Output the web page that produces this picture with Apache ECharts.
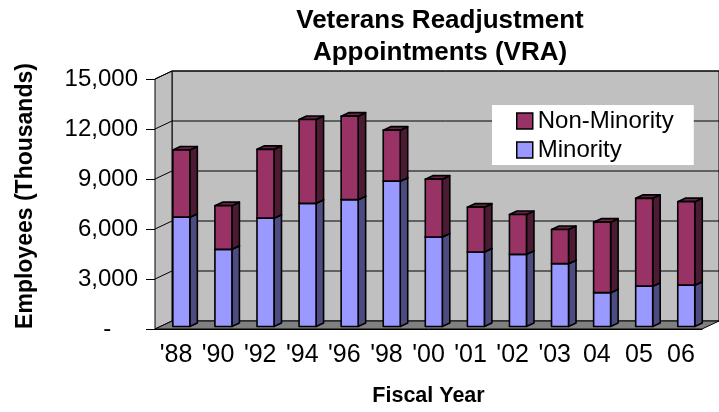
<!DOCTYPE html>
<html>
<head>
<meta charset="utf-8">
<script src="https://cdn.jsdelivr.net/npm/echarts@6/dist/echarts.min.js"></script>
<style>
  html, body { margin: 0; padding: 0; background: #fff; }
  #chart { width: 719px; height: 412px; }
</style>
</head>
<body>
<div id="chart"></div>
<script>
// Fiscal years on the category axis
const categories = ["'88", "'90", "'92", "'94", "'96", "'98", "'00", "'01", "'02", "'03", "04", "05", "06"];
// Appointments by group (stacked: Minority at the bottom)
const minority    = [6560, 4630, 6500, 7390, 7610, 8720, 5370, 4470, 4330, 3770, 2030, 2420, 2480];
const nonMinority = [4030, 2620, 4130, 5030, 5010, 3060, 3470, 2690, 2390, 2050, 4230, 5270, 5010];
// Value axis ticks and their printed labels (accounting style: zero shown as a dash)
const yTicks = [0, 3000, 6000, 9000, 12000, 15000];
const yTickLabels = ['-    ', '3,000', '6,000', '9,000', '12,000', '15,000'];

// Pseudo-3D depth of the walls and of the bars
const WALL_DX = 17, WALL_DY = -8;
const BAR_OFF_X = 5.3, BAR_OFF_Y = -2.5;
const BAR_RATIO = 0.404, BAR_DX = 7.5, BAR_DY = -3.5;

const FONT = 'Liberation Sans, Arial, sans-serif';

function renderWalls(params, api) {
  const cs = params.coordSys;
  const x0 = cs.x, x1 = cs.x + cs.width;
  const yb = api.coord([0, yTicks[0]])[1];
  const yt = api.coord([0, yTicks[yTicks.length - 1]])[1];
  const children = [];
  // back wall
  children.push({
    type: 'polygon',
    shape: { points: [[x0 + WALL_DX, yt + WALL_DY], [x1 + WALL_DX, yt + WALL_DY], [x1 + WALL_DX, yb + WALL_DY], [x0 + WALL_DX, yb + WALL_DY]] },
    style: { fill: '#c0c0c0', stroke: '#000', lineWidth: 1 }
  });
  // left side wall
  children.push({
    type: 'polygon',
    shape: { points: [[x0, yb], [x0 + WALL_DX, yb + WALL_DY], [x0 + WALL_DX, yt + WALL_DY], [x0, yt]] },
    style: { fill: '#c0c0c0', stroke: '#000', lineWidth: 1 }
  });
  // floor
  children.push({
    type: 'polygon',
    shape: { points: [[x0, yb], [x1, yb], [x1 + WALL_DX, yb + WALL_DY], [x0 + WALL_DX, yb + WALL_DY]] },
    style: { fill: '#808080', stroke: '#000', lineWidth: 1 }
  });
  // gridlines running across the side wall and the back wall
  yTicks.forEach(function (v) {
    if (v === 0) return;
    const y = api.coord([0, v])[1];
    children.push({
      type: 'polyline',
      shape: { points: [[x0, y], [x0 + WALL_DX, y + WALL_DY], [x1 + WALL_DX, y + WALL_DY]] },
      style: { fill: null, stroke: '#000', lineWidth: 1 }
    });
  });
  return { type: 'group', children: children };
}

function makeBarRenderer(front, side, top) {
  return function (params, api) {
    const i = api.value(0), v = api.value(1), base = api.value(2);
    const band = api.size([1, 0])[0];
    const w = band * BAR_RATIO;
    const pb = api.coord([i, base]);
    const pt = api.coord([i, base + v]);
    const cx = pb[0] + BAR_OFF_X;
    const xl = cx - w / 2, xr = cx + w / 2;
    const yb = pb[1] + BAR_OFF_Y, yt = pt[1] + BAR_OFF_Y;
    const edge = { stroke: '#000', lineWidth: 1.6, lineJoin: 'round' };
    return {
      type: 'group',
      children: [
        { type: 'polygon', shape: { points: [[xr, yb], [xr + BAR_DX, yb + BAR_DY], [xr + BAR_DX, yt + BAR_DY], [xr, yt]] },
          style: Object.assign({ fill: side }, edge) },
        { type: 'polygon', shape: { points: [[xl, yt], [xl + BAR_DX, yt + BAR_DY], [xr + BAR_DX, yt + BAR_DY], [xr, yt]] },
          style: Object.assign({ fill: top }, edge) },
        { type: 'rect', shape: { x: xl, y: yt, width: w, height: yb - yt },
          style: Object.assign({ fill: front }, edge) }
      ]
    };
  };
}

const minorityData = categories.map(function (c, i) { return [i, minority[i], 0]; });
const nonMinorityData = categories.map(function (c, i) { return [i, nonMinority[i], minority[i]]; });

const chart = echarts.init(document.getElementById('chart'), null, { renderer: 'canvas' });
chart.setOption({
  animation: false,
  backgroundColor: '#fff',
  title: {
    text: 'Veterans Readjustment\nAppointments (VRA)',
    left: 440,
    textAlign: 'center',
    top: 5,
    padding: 0,
    textStyle: { fontFamily: FONT, fontSize: 26, fontWeight: 'bold', color: '#000', lineHeight: 32 }
  },
  legend: {
    data: ['Non-Minority', 'Minority'],
    orient: 'vertical',
    left: 492,
    top: 105,
    backgroundColor: '#fff',
    padding: [4, 20, 3, 24],
    itemWidth: 16,
    itemHeight: 16,
    itemGap: 5,
    itemTextGap: 5,
    icon: 'rect',
    itemStyle: { borderColor: '#000', borderWidth: 1.5 },
    textStyle: { fontFamily: FONT, fontSize: 24, color: '#000' }
  },
  grid: { left: 155, right: 17, top: 79, bottom: 81, containLabel: false },
  xAxis: {
    type: 'category',
    data: categories,
    name: 'Fiscal Year',
    nameLocation: 'middle',
    nameGap: 56,
    nameTextStyle: { fontFamily: FONT, fontSize: 21.5, fontWeight: 'bold', color: '#000' },
    axisLine: { lineStyle: { color: '#000', width: 1 } },
    axisTick: { length: 5, lineStyle: { color: '#000' } },
    axisLabel: { fontFamily: FONT, fontSize: 25, color: '#000', margin: 14, interval: 0, hideOverlap: false },
    splitLine: { show: false }
  },
  yAxis: {
    type: 'value',
    min: 0,
    max: 15000,
    interval: 3000,
    name: 'Employees (Thousands)',
    nameLocation: 'middle',
    nameGap: 118,
    nameTextStyle: { fontFamily: FONT, fontSize: 23, fontWeight: 'bold', color: '#000', padding: [0, 0, 0, 16] },
    axisLine: { show: true, lineStyle: { color: '#000', width: 1 } },
    axisTick: { show: true, length: 9, lineStyle: { color: '#000' } },
    axisLabel: {
      fontFamily: FONT, fontSize: 24, color: '#000', margin: 17,
      formatter: function (v) { const k = yTicks.indexOf(v); return k >= 0 ? yTickLabels[k] : ''; }
    },
    splitLine: { show: false }
  },
  series: [
    {
      name: 'walls',
      type: 'custom',
      renderItem: renderWalls,
      data: [[0, 0]],
      encode: { x: 0, y: 1 },
      silent: true,
      z: 1
    },
    {
      name: 'Minority',
      type: 'custom',
      renderItem: makeBarRenderer('#9999ff', '#4c4c80', '#7a7acc'),
      data: minorityData,
      encode: { x: 0, y: 1 },
      itemStyle: { color: '#9999ff' },
      z: 3
    },
    {
      name: 'Non-Minority',
      type: 'custom',
      renderItem: makeBarRenderer('#993366', '#4c1a33', '#6b2447'),
      data: nonMinorityData,
      encode: { x: 0, y: 1 },
      itemStyle: { color: '#993366' },
      z: 3
    }
  ]
});
</script>
</body>
</html>
